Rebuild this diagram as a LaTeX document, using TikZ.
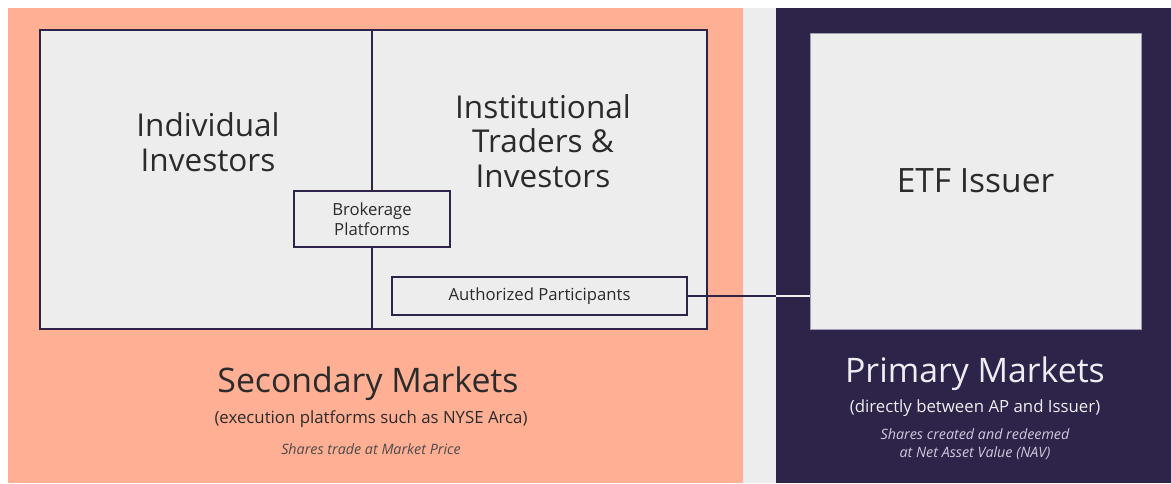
\documentclass[tikz,border=0pt]{standalone}
\usepackage{fontspec}
\setmainfont{Open Sans}
\definecolor{salmon}{HTML}{FFAF94}
\definecolor{navy}{HTML}{2E2349}
\definecolor{panelgray}{HTML}{EDEDED}
\definecolor{inkdark}{HTML}{2B2B2B}
\definecolor{inklight}{HTML}{EEEEF2}
\definecolor{inkmuted}{HTML}{CFCADB}
\definecolor{etfborder}{HTML}{A29CB5}
\tikzset{
  panel/.style={draw=none, inner sep=0pt, outer sep=0pt},
  grayfill/.style={fill=panelgray, draw=navy, line width=1.6pt, inner sep=0pt, outer sep=0pt},
  smallbox/.style={fill=panelgray, draw=navy, line width=1.6pt, inner sep=0pt, outer sep=0pt,
    text=inkdark, font=\fontsize{16.7}{20}\selectfont, align=center},
  bigtext/.style={text=inkdark, font=\fontsize{31.5}{34.5}\selectfont, align=center, inner sep=0pt},
  titletext/.style={font=\fontsize{33.8}{38}\selectfont, inner sep=0pt},
  subtext/.style={font=\fontsize{16.8}{20}\selectfont, inner sep=0pt},
  notetext/.style={font=\fontsize{14.3}{17.5}\itshape\selectfont, inner sep=0pt, align=center},
  link/.style={draw=navy, line width=1.6pt}
}
\begin{document}
\begin{tikzpicture}[x=1pt, y=-1pt]
\useasboundingbox (0,0) rectangle (1171,483);
\fill[white] (0,0) rectangle (1171,483);
% panels
\node[panel, fill=panelgray, minimum width=33pt, minimum height=475pt] (gap) at (759.5,245.5) {};
\node[panel, fill=salmon, minimum width=735pt, minimum height=475pt] (sec) at (375.5,245.5) {};
\node[panel, fill=navy, minimum width=395pt, minimum height=475pt] (prim) at (973.5,245.5) {};
% secondary market box
\node[grayfill, minimum width=667pt, minimum height=299pt] (outer) at (373.5,179.5) {};
\node[smallbox, minimum width=156pt, minimum height=56pt] (bro) at (372,219) {Brokerage\\Platforms};
\draw[link] (outer.north -| bro) -- (bro.north);
\draw[link] (bro.south) -- (outer.south -| bro);
\node[smallbox, minimum width=295pt, minimum height=38pt] (ap) at (539.5,296) {Authorized Participants};
\node[bigtext] (ind) at (208,142) {Individual\\Investors};
\node[bigtext] (inst) at (543,141) {Institutional\\Traders \&\\Investors};
% ETF issuer
\node[fill=panelgray, draw=etfborder, line width=0.8pt, inner sep=0pt, outer sep=0pt,
      minimum width=331pt, minimum height=296pt, text=inkdark,
      font=\fontsize{33.5}{36}\selectfont] (etf) at (975.5,181) {ETF Issuer};
% connector
\draw[link] (ap.east) -- (ap.east -| prim.west);
\draw[draw=inklight, line width=1.6pt] (ap.east -| prim.west) -- (ap.east -| etf.west);
% labels secondary
\node[titletext, text=inkdark] (sectitle) at (368,384) {Secondary Markets};
\node[subtext, text=inkdark] (secsub) at (371,419) {(execution platforms such as NYSE Arca)};
\node[notetext, text=inkdark!85] (secnote) at (371,449) {Shares trade at Market Price};
% labels primary
\node[titletext, text=inklight] (primtitle) at (975,374) {Primary Markets};
\node[subtext, text=inklight] (primsub) at (975,408) {(directly between AP and Issuer)};
\node[notetext, text=inkmuted] (primnote) at (975,444) {Shares created and redeemed\\at Net Asset Value (NAV)};
\end{tikzpicture}
\end{document}
